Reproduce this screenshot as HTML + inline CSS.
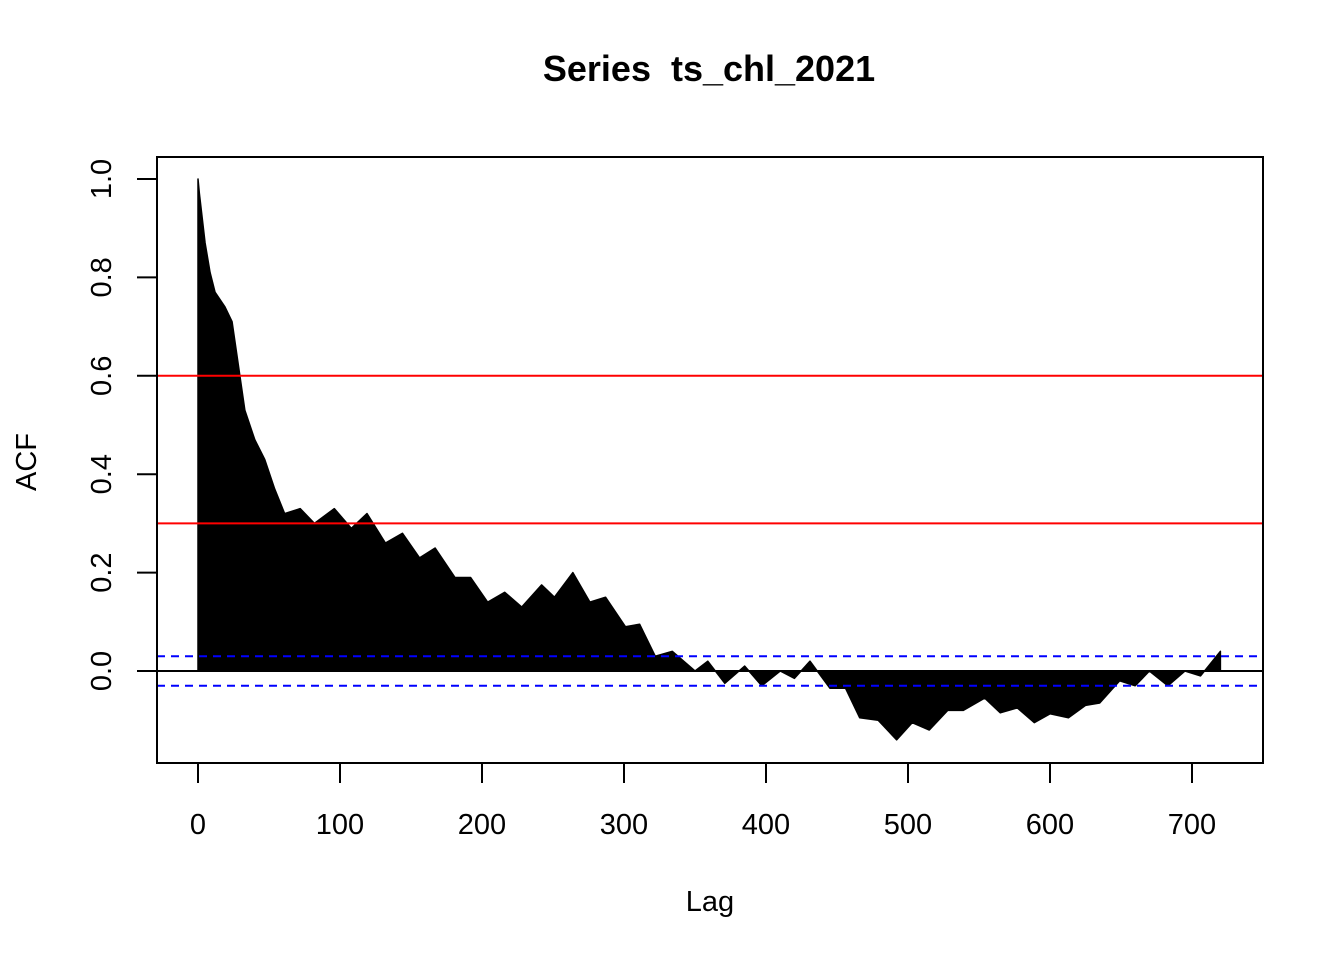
<!DOCTYPE html>
<html><head><meta charset="utf-8"><style>
html,body{margin:0;padding:0;background:#fff;}
svg{display:block;font-family:"Liberation Sans",Arial,sans-serif;}
</style></head><body>
<svg id="chart" width="1344" height="960" viewBox="0 0 1344 960" xmlns="http://www.w3.org/2000/svg">
<rect width="1344" height="960" fill="#fff"/>
<text x="709" y="81" text-anchor="middle" font-size="36" font-weight="bold" style="white-space:pre">Series  ts_chl_2021</text>
<text x="710" y="911" text-anchor="middle" font-size="29">Lag</text>
<text transform="translate(36,462) rotate(-90)" text-anchor="middle" font-size="29">ACF</text>
<g id="marks"></g>
<rect x="157" y="157" width="1106" height="606" fill="none" stroke="#000" stroke-width="2"/>
</svg>
<script>
const lags=[0,1,5,8.5,12,19,24,28,33,40,47,54,61,72,82,96,108,119,132,144,156,167,181,192,204,216,228,242,251,264,276,287,301,311,322,334,350,359,371,385,397,410,420,431,445,456,466,479,492,503,515,528,539,554,565,577,589,600,613,625,635,649,660,670,683,695,706,720];
const acf=[1.0,0.97,0.87,0.81,0.77,0.74,0.71,0.63,0.53,0.47,0.43,0.37,0.32,0.33,0.30,0.33,0.29,0.32,0.26,0.28,0.23,0.25,0.19,0.19,0.14,0.16,0.13,0.175,0.15,0.20,0.14,0.15,0.09,0.095,0.03,0.04,0.0,0.02,-0.025,0.01,-0.03,0.0,-0.015,0.02,-0.035,-0.035,-0.095,-0.10,-0.14,-0.105,-0.12,-0.08,-0.08,-0.055,-0.085,-0.075,-0.105,-0.087,-0.095,-0.07,-0.065,-0.02,-0.03,0.0,-0.03,0.0,-0.01,0.04];
const xTicks=[0,100,200,300,400,500,600,700];
const yTicks=[0.0,0.2,0.4,0.6,0.8,1.0];
const refLines=[0.6,0.3];
const ciBound=0.03;
const NS="http://www.w3.org/2000/svg";
const sx=v=>198+v*(994/700);
const sy=v=>671-v*492;
const g=document.getElementById('marks');
const svg=document.getElementById('chart');
function mk(t,a){const e=document.createElementNS(NS,t);for(const k in a)e.setAttribute(k,a[k]);return e;}
let pts=`${sx(lags[0])},${sy(0)} `+lags.map((l,i)=>`${sx(l)},${sy(acf[i])}`).join(' ')+` ${sx(lags[lags.length-1])},${sy(0)}`;
const area=mk('polygon',{points:pts,fill:'#000',stroke:'#000','stroke-width':1.5,'stroke-linejoin':'round'});


g.appendChild(area);
const zero=mk('line',{x1:157,x2:1263,y1:sy(0),y2:sy(0),stroke:'#000','stroke-width':2});


g.appendChild(zero);
[ciBound,-ciBound].forEach(b=>{
 const l=mk('line',{x1:157,x2:1263,y1:sy(b),y2:sy(b),stroke:'#0000ff','stroke-width':2,'stroke-dasharray':'8,6'});
 
 
 g.appendChild(l);
});
refLines.forEach(r=>{
 const l=mk('line',{x1:157,x2:1263,y1:sy(r),y2:sy(r),stroke:'#ff0000','stroke-width':2});
 
 
 g.appendChild(l);
});
xTicks.forEach(t=>{
 const l=mk('line',{x1:sx(t),x2:sx(t),y1:763,y2:783,stroke:'#000','stroke-width':2});
 
 
 svg.appendChild(l);
 const tx=mk('text',{x:sx(t),y:834,'text-anchor':'middle','font-size':29});
 tx.textContent=t;
 
 
 svg.appendChild(tx);
});
svg.appendChild(mk('line',{x1:sx(0),x2:sx(700),y1:763,y2:763,stroke:'#000','stroke-width':2}));
yTicks.forEach(t=>{
 const l=mk('line',{x1:137,x2:157,y1:sy(t),y2:sy(t),stroke:'#000','stroke-width':2});
 
 
 svg.appendChild(l);
 const tx=mk('text',{transform:`translate(111,${sy(t)}) rotate(-90)`,'text-anchor':'middle','font-size':29});
 tx.textContent=t.toFixed(1);
 
 
 svg.appendChild(tx);
});
</script>
</body></html>
